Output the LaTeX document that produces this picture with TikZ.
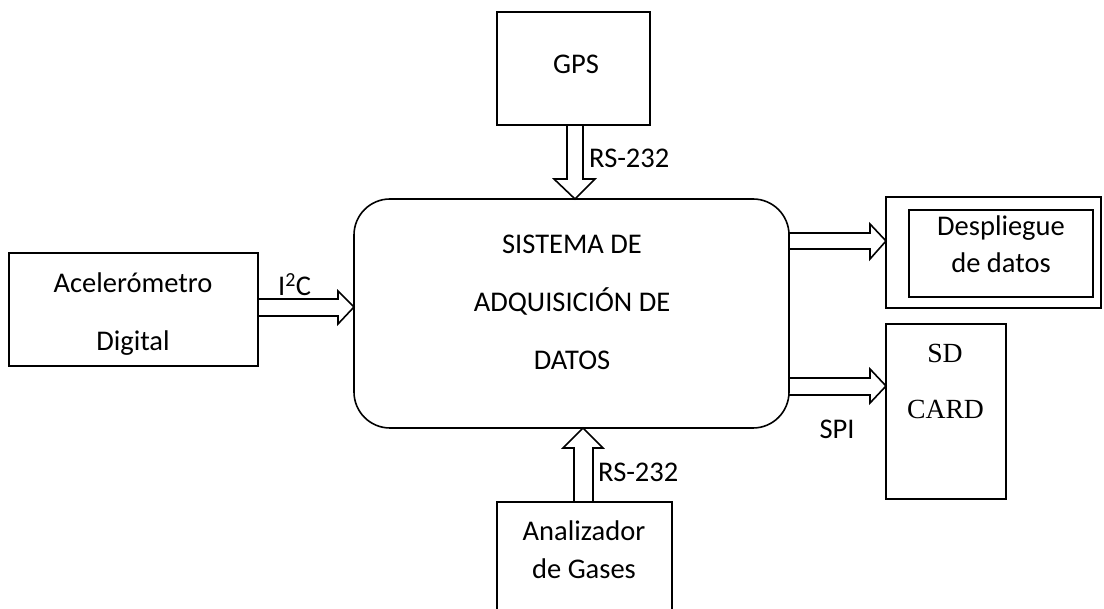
\documentclass[tikz,border=0pt]{standalone}
\usepackage{fontspec}
\setmainfont{Carlito}
\newfontfamily\timesf{Liberation Serif}
\usetikzlibrary{calc}
\begin{document}
\begin{tikzpicture}[x=1pt,y=-1pt,
  box/.style={draw,line width=1.6pt,inner sep=0pt,outer sep=0pt},
  blk/.style={draw,line width=1.6pt,line join=miter},
  txt/.style={anchor=base,inner sep=0pt,font=\fontsize{28.5}{30}\selectfont},
  ttxt/.style={anchor=base,inner sep=0pt,font=\timesf\fontsize{27.7}{30}\selectfont}]
\useasboundingbox (0,0) rectangle (1104,609);
% boxes
\node[box,minimum width=153pt,minimum height=113pt] (gps) at (573.5,68.5) {};
\node[box,rounded corners=36pt,minimum width=435pt,minimum height=229pt] (main) at (571.5,313.5) {};
\node[box,minimum width=249pt,minimum height=113pt] (acc) at (133.5,309.5) {};
\node[box,minimum width=215pt,minimum height=111pt] (dout) at (993.5,252.5) {};
\node[box,minimum width=184pt,minimum height=87pt] (din) at (1001,253.5) {};
\node[box,minimum width=120pt,minimum height=175pt] (sd) at (946,411.5) {};
\node[box,minimum width=175pt,minimum height=116pt] (gas) at (584.5,560) {};
% texts
\node[txt] (t1) at (576,74) {GPS};
\node[txt] (t2) at (572,254) {SISTEMA DE};
\node[txt] (t3) at (572,312) {ADQUISICIÓN DE};
\node[txt] (t4) at (572,370) {DATOS};
\node[txt] (t5) at (133,293) {Acelerómetro};
\node[txt] (t6) at (133,351) {Digital};
\node[txt] (t7) at (1001,236) {Despliegue};
\node[txt] (t8) at (1001,273) {de datos};
\node[ttxt] (t9) at (945,363) {SD};
\node[ttxt] (t10) at (945.5,419) {CARD};
\node[txt] (t11) at (584,540) {Analizador};
\node[txt] (t12) at (584,578) {de Gases};
\node[txt,anchor=base west] (l1) at (589,168) {RS-232};
\node[txt,anchor=base west] (l2) at (598,482) {RS-232};
\node[txt,anchor=base west] (l3) at (278,296) {I\textsuperscript{2}C};
\node[txt] (l4) at (837,439) {SPI};
% block arrows
\draw[blk] (567,0 |- gps.south) -- (567,179) -- (554,179) -- (575,0 |- main.north)
  -- (595,179) -- (583,179) -- (583,0 |- gps.south);
\draw[blk] (acc.east |- 0,299) -- (338,299) -- (338,291) -- (main.west |- 0,307)
  -- (338,324) -- (338,316) -- (acc.east |- 0,316);
\draw[blk] (main.east |- 0,233) -- (870,233) -- (870,224) -- (dout.west |- 0,241)
  -- (870,259) -- (870,249) -- (main.east |- 0,249);
\draw[blk] (main.east |- 0,378) -- (870,378) -- (870,369) -- (sd.west |- 0,386)
  -- (870,403) -- (870,395) -- (main.east |- 0,395);
\draw[blk] (574,0 |- gas.north) -- (574,448) -- (563,448) -- (583,0 |- main.south)
  -- (603,448) -- (593,448) -- (593,0 |- gas.north);
\end{tikzpicture}
\end{document}
